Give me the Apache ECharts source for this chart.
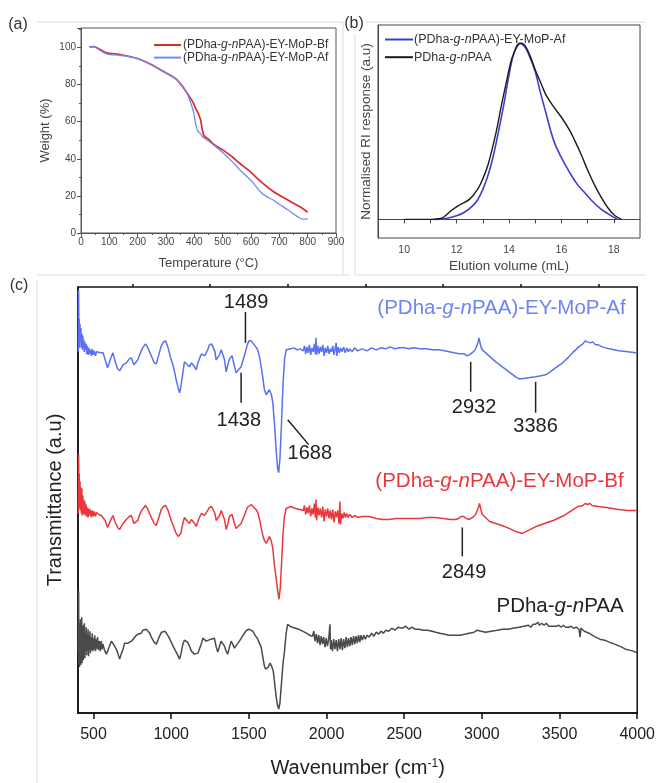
<!DOCTYPE html>
<html><head><meta charset="utf-8">
<script src="https://cdn.jsdelivr.net/npm/echarts@6/dist/echarts.min.js"></script>
<style>html,body{margin:0;padding:0;background:#fff}#c{width:658px;height:783px}</style>
</head><body><div id="c"></div>
<script>
// ---------------- DATA ----------------
// (a) TGA: [temperature °C, weight %]
const tgaBf = [[30,100.3],[45,100.5],[60,99.5],[80,97.8],[95,97.0],[120,96.6],[150,95.8],[180,94.8],[200,94.0],[230,92.2],[260,89.8],[290,87.2],[320,84.6],[340,82.4],[360,78.6],[380,74.2],[395,70.5],[405,67.0],[415,64.0],[422,61.0],[428,56.0],[435,52.3],[450,50.6],[470,47.6],[500,44.8],[530,41.5],[560,37.6],[590,34.0],[610,31.2],[640,27.0],[680,22.2],[710,19.5],[750,16.0],[780,13.5],[800,11.1]];
const tgaAf = [[30,100.3],[45,100.4],[60,99.2],[80,97.2],[95,96.3],[120,96.0],[150,95.5],[180,94.8],[200,94.0],[230,92.0],[260,89.6],[290,87.0],[320,84.4],[340,82.5],[360,79.0],[374,75.4],[390,69.0],[398,64.6],[405,58.5],[412,55.0],[421,53.6],[433,51.3],[450,49.6],[470,47.2],[503,43.0],[530,39.0],[561,34.0],[590,29.8],[608,27.0],[632,22.4],[655,19.6],[678,17.8],[700,15.5],[730,12.5],[749,10.4],[770,8.2],[784,7.5],[800,7.6]];
// (b) GPC: [elution volume mL, normalised RI]
const gpcAf = [[11.2,0],[11.6,0.005],[12.0,0.02],[12.3,0.04],[12.6,0.075],[12.8,0.11],[13.0,0.17],[13.2,0.25],[13.4,0.36],[13.6,0.5],[13.8,0.65],[14.0,0.82],[14.2,0.95],[14.4,1.0],[14.6,0.98],[14.8,0.92],[15.0,0.84],[15.2,0.72],[15.4,0.61],[15.7,0.45],[16.0,0.35],[16.3,0.27],[16.6,0.2],[16.9,0.15],[17.2,0.1],[17.5,0.06],[17.8,0.03],[18.1,0.003],[18.15,0]];
const gpcPAA = [[10,0],[11,0],[11.3,0.003],[11.5,0.012],[11.8,0.05],[12.1,0.08],[12.5,0.115],[12.8,0.17],[13.0,0.23],[13.2,0.31],[13.5,0.49],[13.7,0.64],[13.9,0.78],[14.1,0.91],[14.3,0.98],[14.45,1.0],[14.6,0.99],[14.8,0.93],[15.0,0.85],[15.2,0.78],[15.4,0.71],[15.7,0.64],[16.0,0.58],[16.3,0.51],[16.5,0.45],[16.75,0.37],[17.0,0.28],[17.25,0.2],[17.5,0.13],[17.8,0.06],[18.05,0.02],[18.3,0.0]];
// (c) FTIR: [wavenumber cm-1, transmittance a.u. (stacked)]
const irAf = [[402,362],[404,424],[406,380],[408,395],[410,366],[413,390],[416,372],[419,386],[422,366],[425,380],[428,364],[431,378],[434,366],[437,374],[440,362],[444,372],[448,364],[452,370],[456,360],[460,368],[465,359],[470,366],[475,360],[480,364],[486,358],[492,365],[498,359],[505,363],[512,358],[520,362],[530,360],[545,361],[561,361],[575,354],[590,346],[600,347],[612,356],[625,361],[640,352],[655,345],[668,343],[690,349],[711,351],[730,355],[743,356],[760,349],[771,347],[785,354],[797,359],[815,366],[835,370],[850,366],[872,358],[890,351],[904,350],[920,359],[936,368],[950,372],[964,373],[980,366],[1000,354],[1015,347],[1032,334],[1045,326],[1054,321],[1062,327],[1075,341],[1085,352],[1092,354],[1105,349],[1118,347],[1130,351],[1139,352],[1150,347],[1161,344],[1172,351],[1182,355],[1195,360],[1204,362],[1215,358],[1225,357],[1235,364],[1246,369],[1260,370],[1272,371],[1282,362],[1289,354],[1300,352],[1311,359],[1322,364],[1332,365],[1343,354],[1354,342],[1365,349],[1375,355],[1392,358],[1405,349],[1418,341],[1430,343],[1450,347],[1471,358],[1490,369],[1500,373],[1515,373],[1525,371],[1545,367],[1557,364],[1570,356],[1579,347],[1590,336],[1600,324],[1612,319],[1621,321],[1632,324],[1645,319],[1654,311],[1665,290],[1675,265],[1685,245],[1692,241],[1700,255],[1710,290],[1720,330],[1730,355],[1740,364],[1750,366],[1770,365],[1790,366],[1810,364],[1830,365],[1850,363],[1858,368],[1866,360],[1874,367],[1882,361],[1890,369],[1898,359],[1906,366],[1914,362],[1922,370],[1928,360],[1932,376],[1936,359],[1944,368],[1952,360],[1960,367],[1968,362],[1976,369],[1984,358],[1992,366],[2000,361],[2008,368],[2016,360],[2024,365],[2032,362],[2040,368],[2048,359],[2056,366],[2062,371],[2066,358],[2074,367],[2082,361],[2090,366],[2100,362],[2110,367],[2120,361],[2130,366],[2140,362],[2150,365],[2165,362],[2180,366],[2200,363],[2230,365],[2260,363],[2290,366],[2320,364],[2350,366],[2380,365],[2410,367],[2440,365],[2470,366],[2500,366],[2530,365],[2560,366],[2600,365],[2640,365],[2680,364],[2720,364],[2760,363],[2790,362],[2820,361],[2853,360],[2886,360],[2905,358],[2918,359],[2930,360],[2945,362],[2960,365],[2972,370],[2982,376],[2992,368],[3003,364],[3025,361],[3046,358],[3090,352],[3132,347],[3175,342],[3217,337],[3240,335],[3260,335],[3300,336],[3346,337],[3380,338],[3410,339],[3440,342],[3474,346],[3520,351],[3560,357],[3590,362],[3624,367],[3650,370],[3665,373],[3678,372],[3690,374],[3700,371],[3715,372],[3731,369],[3750,369],[3774,367],[3820,365],[3881,363],[3940,362],[3990,361],[4000,361]];
const irBf = [[402,200],[404,259],[406,215],[408,240],[410,205],[413,232],[416,203],[419,226],[422,200],[425,225],[428,198],[431,218],[434,200],[437,214],[440,199],[444,212],[448,198],[452,209],[456,197],[460,206],[465,196],[470,205],[475,198],[480,204],[486,196],[492,203],[498,197],[505,202],[512,197],[520,201],[535,199],[550,198],[561,198],[575,193],[590,186],[600,187],[612,194],[625,198],[640,191],[655,186],[668,184],[690,190],[711,194],[730,197],[743,198],[760,190],[771,188],[785,193],[797,199],[815,204],[835,208],[850,204],[872,196],[890,190],[904,188],[920,196],[936,204],[950,207],[964,208],[980,203],[1000,193],[1015,187],[1032,180],[1045,177],[1054,175],[1062,180],[1075,190],[1085,196],[1092,197],[1105,192],[1118,190],[1130,194],[1139,195],[1150,190],[1161,187],[1172,192],[1182,196],[1195,200],[1204,202],[1215,198],[1225,197],[1235,203],[1246,206],[1260,207],[1272,208],[1282,200],[1289,193],[1300,192],[1311,198],[1322,203],[1332,203],[1343,194],[1354,184],[1365,190],[1375,197],[1392,199],[1405,191],[1418,185],[1430,186],[1450,190],[1471,198],[1490,206],[1500,208],[1515,209],[1525,208],[1545,204],[1557,201],[1570,193],[1579,186],[1590,178],[1600,173],[1612,170],[1621,173],[1632,177],[1645,172],[1654,165],[1664,149],[1676,135],[1686,122],[1694,114],[1702,125],[1710,148],[1718,175],[1728,196],[1740,205],[1750,206],[1770,207],[1800,205],[1830,204],[1850,203],[1858,208],[1866,199],[1874,206],[1882,200],[1890,208],[1898,197],[1906,205],[1914,199],[1922,210],[1928,196],[1932,214],[1936,193],[1944,206],[1952,198],[1960,205],[1968,196],[1976,207],[1984,192],[1992,204],[2000,197],[2008,205],[2016,195],[2024,203],[2032,194],[2040,204],[2048,191],[2056,202],[2064,196],[2072,203],[2080,190],[2086,212],[2090,189],[2098,200],[2106,195],[2114,201],[2122,196],[2130,200],[2140,196],[2150,199],[2165,196],[2180,198],[2200,196],[2230,197],[2275,197],[2320,195],[2360,194],[2400,194],[2450,195],[2500,195],[2550,195],[2600,195],[2650,196],[2700,196],[2750,195],[2800,194],[2830,194],[2850,195],[2865,197],[2880,197],[2900,195],[2920,194],[2940,196],[2960,199],[2975,205],[2985,210],[2995,203],[3003,199],[3050,192],[3090,190],[3130,188],[3175,185],[3217,182],[3240,181],[3260,180],[3300,183],[3350,187],[3420,191],[3460,193],[3500,196],[3530,198],[3560,201],[3590,204],[3620,207],[3650,208],[3665,210],[3680,209],[3695,210],[3710,208],[3750,207],[3800,206],[3880,204],[3940,203],[3990,203],[4000,203]];
const irPAA = [[402,60],[404,122],[406,50],[408,90],[410,46],[412,85],[414,52],[416,94],[418,48],[420,80],[422,55],[424,96],[426,50],[428,78],[430,58],[432,88],[434,53],[436,82],[438,60],[441,90],[444,55],[447,80],[450,62],[453,86],[456,58],[459,79],[462,63],[465,84],[468,57],[471,78],[474,64],[477,82],[480,60],[484,76],[488,63],[492,80],[496,62],[500,75],[504,64],[508,78],[512,62],[516,74],[520,64],[526,76],[532,63],[538,72],[544,62],[550,72],[555,64],[561,69],[570,63],[583,59],[600,66],[615,72],[625,70],[636,67],[652,62],[668,54],[680,60],[690,64],[700,70],[711,72],[722,70],[733,68],[745,72],[754,74],[770,77],[786,79],[807,80],[818,83],[829,83],[840,84],[850,83],[862,80],[872,76],[890,71],[904,69],[914,73],[925,77],[938,81],[950,83],[960,82],[968,81],[985,76],[1000,71],[1015,66],[1032,61],[1045,57],[1054,54],[1064,60],[1075,69],[1085,73],[1092,75],[1105,71],[1118,67],[1130,62],[1139,61],[1150,59],[1161,58],[1172,60],[1182,62],[1195,70],[1204,75],[1215,74],[1225,72],[1240,73],[1257,74],[1268,75],[1278,75],[1290,66],[1300,61],[1311,67],[1321,72],[1332,70],[1343,67],[1354,62],[1364,59],[1375,66],[1386,72],[1396,69],[1407,65],[1420,68],[1439,72],[1455,76],[1471,80],[1485,83],[1500,84],[1512,84],[1525,82],[1540,78],[1557,74],[1568,70],[1579,66],[1590,56],[1600,47],[1607,44],[1614,42],[1625,46],[1636,50],[1646,47],[1657,42],[1666,30],[1675,17],[1684,8],[1692,4],[1700,10],[1710,30],[1720,50],[1729,61],[1740,80],[1750,89],[1765,87],[1780,86],[1800,85],[1820,84],[1846,82],[1870,80],[1890,78],[1910,77],[1918,82],[1926,72],[1934,79],[1942,70],[1950,78],[1958,68],[1966,77],[1974,69],[1982,76],[1990,66],[1998,75],[2006,67],[2014,74],[2022,89],[2026,64],[2030,73],[2038,62],[2046,74],[2054,64],[2062,73],[2070,62],[2078,74],[2086,64],[2094,75],[2102,63],[2110,74],[2118,65],[2126,76],[2134,66],[2142,75],[2150,67],[2158,76],[2166,68],[2174,77],[2182,69],[2190,77],[2198,70],[2206,78],[2214,71],[2222,78],[2230,73],[2240,78],[2250,74],[2262,78],[2275,76],[2290,80],[2305,77],[2320,81],[2335,79],[2350,82],[2365,80],[2382,83],[2400,82],[2420,85],[2440,83],[2460,86],[2489,85],[2510,87],[2530,84],[2550,86],[2570,84],[2596,84],[2620,83],[2650,83],[2680,82],[2703,81],[2730,80],[2760,79],[2790,78],[2832,78],[2860,78],[2890,79],[2918,80],[2950,81],[2970,83],[2982,85],[2995,82],[3024,81],[3060,82],[3100,83],[3131,84],[3170,84],[3200,85],[3238,86],[3270,87],[3300,88],[3315,86],[3330,89],[3346,89],[3360,91],[3370,88],[3385,90],[3400,88],[3415,90],[3430,87],[3453,87],[3465,89],[3480,87],[3495,88],[3510,86],[3525,88],[3540,86],[3560,86],[3575,87],[3590,85],[3610,86],[3625,84],[3632,76],[3638,85],[3660,82],[3690,80],[3710,78],[3731,76],[3760,74],[3790,73],[3820,71],[3839,70],[3870,68],[3900,66],[3925,64],[3950,63],[3975,62],[3990,61],[4000,61]];
// tick labels
const tgaXTicks = [0,100,200,300,400,500,600,700,800,900];
const tgaYTicks = [0,20,40,60,80,100];
const gpcXTicks = [10,12,14,16,18];
const gpcXMinor = [10,11,12,13,14,15,16,17,18];
const irXTicks = [500,1000,1500,2000,2500,3000,3500,4000];
const irXMinor = [750,1250,1750,2250,2750,3250,3750];
// peak annotations (wavenumber label)
const peakLabels = ['1489','1438','1688','2932','3386','2849'];

// ---------------- CHART ----------------
const FONT = '"Liberation Sans", Arial, sans-serif';
const chart = echarts.init(document.getElementById('c'));
function rich(a, b){ return '{n|' + a + '}{i|g}{n|-}{i|n}{n|' + b + '}'; }
const names = {
  tgaBf: rich('(PDha-', 'PAA)-EY-MoP-Bf'),
  tgaAf: rich('(PDha-', 'PAA)-EY-MoP-Af'),
  gpcAf: rich('(PDha-', 'PAA)-EY-MoP-Af'),
  gpcPAA: rich('PDha-', 'PAA')
};
function richStyle(size, color){
  return { n:{fontSize:size, color:color, fontFamily:FONT}, i:{fontSize:size, color:color, fontFamily:FONT, fontStyle:'italic'} };
}
const txt = '#333';
const plain = function(v){ return String(v); };
function lineSeries(name, data, xi, yi, color, width, smooth){
  return {name:name, type:'line', data:data, xAxisIndex:xi, yAxisIndex:yi, showSymbol:false, symbol:'none',
    smooth:smooth, lineStyle:{color:color, width:width}, itemStyle:{color:color}, animation:false, silent:true};
}
const option = {
  animation:false,
  textStyle:{fontFamily:FONT},
  grid:[
    {left:81, top:28, width:255, height:205, show:true, borderColor:'#555', borderWidth:1},
    {left:378, top:25, width:262, height:213, show:true, borderColor:'#444', borderWidth:1},
    {left:78, top:287, width:560, height:427, show:true, borderColor:'#111', borderWidth:1.5}
  ],
  xAxis:[
    {gridIndex:0, type:'value', min:0, max:900, interval:100,
     axisLine:{lineStyle:{color:'#555'}}, axisTick:{length:4, lineStyle:{color:'#555'}},
     minorTick:{show:true, splitNumber:2, length:2, lineStyle:{color:'#555'}},
     axisLabel:{fontSize:10, color:'#444', margin:4, fontFamily:FONT, customValues:tgaXTicks, formatter:plain}, splitLine:{show:false},
     name:'Temperature (°C)', nameLocation:'middle', nameGap:24, nameTextStyle:{fontSize:13, color:'#444', fontFamily:FONT}},
    {gridIndex:1, type:'value', min:9, max:19,
     axisLine:{lineStyle:{color:'#444'}}, axisTick:{length:4, customValues:gpcXMinor, lineStyle:{color:'#444'}},
     axisLabel:{fontSize:10.5, color:'#444', margin:7, customValues:gpcXTicks, fontFamily:FONT, formatter:plain}, splitLine:{show:false},
     name:'Elution volume (mL)', nameLocation:'middle', nameGap:21, nameTextStyle:{fontSize:13.5, color:'#444', fontFamily:FONT}},
    {gridIndex:2, type:'value', min:400, max:4000,
     axisLine:{lineStyle:{color:'#111', width:1.5}}, axisTick:{length:6, customValues:irXTicks, lineStyle:{color:'#111', width:1.5}},
     axisLabel:{fontSize:16, color:'#222', margin:14, customValues:irXTicks, fontFamily:FONT, formatter:plain}, splitLine:{show:false},
     name:'{n|Wavenumber (cm}{s|-1}{n|)}', nameLocation:'middle', nameGap:45,
     nameTextStyle:{fontSize:20, color:'#222', fontFamily:FONT, rich:{n:{fontSize:20, color:'#222', fontFamily:FONT}, s:{fontSize:12, verticalAlign:'top', color:'#222', fontFamily:FONT, padding:[0,0,8,0]}}}},
    {gridIndex:2, type:'value', min:400, max:4000,
     axisLine:{show:false}, axisTick:{length:3, customValues:irXMinor, lineStyle:{color:'#111', width:1.5}},
     axisLabel:{show:false}, splitLine:{show:false}}
  ],
  yAxis:[
    {gridIndex:0, type:'value', min:0, max:110.5, interval:20,
     axisLine:{show:true, lineStyle:{color:'#555'}}, axisTick:{show:true, length:4, lineStyle:{color:'#555'}},
     minorTick:{show:true, splitNumber:2, length:2, lineStyle:{color:'#555'}},
     axisLabel:{fontSize:10, color:'#444', margin:5, fontFamily:FONT, customValues:tgaYTicks, formatter:plain}, splitLine:{show:false},
     name:'Weight (%)', nameLocation:'middle', nameGap:29, nameTextStyle:{fontSize:13, color:'#444', fontFamily:FONT}},
    {gridIndex:1, type:'value', min:-0.106, max:1.104,
     axisLine:{show:true, lineStyle:{color:'#444'}}, axisTick:{show:false}, axisLabel:{show:false}, splitLine:{show:false},
     name:'Normalised RI response (a.u)', nameLocation:'middle', nameGap:5, nameTextStyle:{fontSize:13.5, color:'#444', fontFamily:FONT}},
    {gridIndex:2, type:'value', min:0, max:427,
     axisLine:{show:true, lineStyle:{color:'#111', width:1.5}}, axisTick:{show:false}, axisLabel:{show:false}, splitLine:{show:false},
     name:'Transmittance (a.u)', nameLocation:'middle', nameGap:13, nameTextStyle:{fontSize:20, color:'#222', fontFamily:FONT}}
  ],
  legend:[
    {data:['tgaBf','tgaAf'], left:149, top:34, orient:'vertical', icon:'rect', itemWidth:27, itemHeight:2, itemGap:0.6,
     selectedMode:false, formatter:function(n){return names[n];},
     textStyle:{fontSize:12, lineHeight:12, color:txt, padding:[0,0,0,-3], rich:richStyle(12, txt)}},
    {data:['gpcAf','gpcPAA'], left:380, top:28, orient:'vertical', icon:'rect', itemWidth:28, itemHeight:2, itemGap:4.7,
     selectedMode:false, formatter:function(n){return names[n];},
     textStyle:{fontSize:12.5, lineHeight:13, color:txt, padding:[0,0,0,-4], rich:richStyle(12.5, txt)}}
  ],
  series:[
    lineSeries('tgaBf', tgaBf, 0, 0, '#dc2b2b', 1.7, 0.3),
    lineSeries('tgaAf', tgaAf, 0, 0, '#6f8cf2', 1.3, 0.3),
    lineSeries('gpcAf', gpcAf, 1, 1, '#3f3fcc', 1.6, 0.4),
    lineSeries('gpcPAA', gpcPAA, 1, 1, '#1a1a1a', 1.4, 0.4),
    lineSeries('irAf', irAf, 2, 2, '#5b70f0', 1.5, false),
    lineSeries('irBf', irBf, 2, 2, '#e8383d', 1.5, false),
    lineSeries('irPAA', irPAA, 2, 2, '#4a4a4a', 1.5, false)
  ]
};
chart.setOption(option);

// ---------------- ANNOTATIONS (data coordinates) ----------------
function P(pt){ return chart.convertToPixel({xAxisIndex:2, yAxisIndex:2}, pt); }
const annLines = [
  [[1478,402],[1478,371]], [[1450,341],[1450,311]], [[1750,294],[1885,269]],
  [[2928,352],[2928,322]], [[3346,332],[3346,301]], [[2874,186],[2874,157]]
];
const annText = [
  {p:[1482,411], align:'center'}, {p:[1435,293], align:'center'}, {p:[1749,260], align:'left'},
  {p:[2950,306], align:'center'}, {p:[3346,287], align:'center'}, {p:[2885,141], align:'center'}
];
const seriesLabels = [
  {p:[3926,406], text:rich('(PDha-','PAA)-EY-MoP-Af'), color:'#6e84f2'},
  {p:[3913,232], text:rich('(PDha-','PAA)-EY-MoP-Bf'), color:'#e8383d'},
  {p:[3913,107], text:rich('PDha-','PAA'), color:'#222'}
];
const graphic = [];
annLines.forEach(function(l){
  const a = P(l[0]), b = P(l[1]);
  graphic.push({type:'line', silent:true, shape:{x1:a[0], y1:a[1], x2:b[0], y2:b[1]}, style:{stroke:'#222', lineWidth:1.5}});
});
annText.forEach(function(t, i){
  const a = P(t.p);
  graphic.push({type:'text', silent:true, x:a[0], y:a[1], style:{text:peakLabels[i], fill:'#222', font:'20px ' + FONT, align:t.align, verticalAlign:'middle'}});
});
seriesLabels.forEach(function(t){
  const a = P(t.p);
  graphic.push({type:'text', silent:true, x:a[0], y:a[1], style:{text:t.text, align:'right', verticalAlign:'middle', rich:richStyle(20.5, t.color), fill:t.color, font:'20.5px ' + FONT}});
});
// panel letters and faint panel frames
[['(a)',18,25],['(b)',354,24],['(c)',19,286]].forEach(function(t){
  graphic.push({type:'text', silent:true, x:t[1], y:t[2], style:{text:t[0], fill:'#333', font:'16px ' + FONT, align:'center', verticalAlign:'middle'}});
});
[[37,22,343,22],[343,22,343,275],[37,275,349,275],[366,22,645,22],[355,34,355,275],[356,275,645,275],[37,280,37,783]].forEach(function(s){
  graphic.push({type:'line', silent:true, shape:{x1:s[0], y1:s[1], x2:s[2], y2:s[3]}, style:{stroke:'#dcdcdc', lineWidth:1}});
});
chart.setOption({graphic:graphic});
</script>
</body></html>
